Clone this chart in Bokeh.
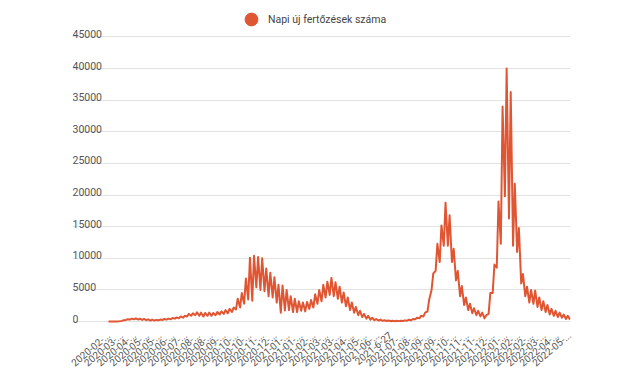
import math
import pandas as pd
from bokeh.plotting import figure
from bokeh.models import Range1d, FixedTicker, Legend, LegendItem
from bokeh.core.properties import value
from bokeh.embed import file_html
from bokeh.resources import INLINE

series_name = "Napi új fertőzések száma"

dates = [
    "2020-02-29",
    "2020-03-02", "2020-03-05", "2020-03-09", "2020-03-12", "2020-03-16", "2020-03-19",
    "2020-03-23", "2020-03-26", "2020-03-30", "2020-04-02", "2020-04-06", "2020-04-09",
    "2020-04-13", "2020-04-16", "2020-04-20", "2020-04-23", "2020-04-27", "2020-04-30",
    "2020-05-04", "2020-05-07", "2020-05-11", "2020-05-14", "2020-05-18", "2020-05-21",
    "2020-05-25", "2020-05-28", "2020-06-01", "2020-06-04", "2020-06-08", "2020-06-11",
    "2020-06-15", "2020-06-18", "2020-06-22", "2020-06-25", "2020-06-29", "2020-07-02",
    "2020-07-06", "2020-07-09", "2020-07-13", "2020-07-16", "2020-07-20", "2020-07-23",
    "2020-07-27", "2020-07-30", "2020-08-03", "2020-08-06", "2020-08-10", "2020-08-13",
    "2020-08-17", "2020-08-20", "2020-08-24", "2020-08-27", "2020-08-31", "2020-09-03",
    "2020-09-07", "2020-09-10", "2020-09-14", "2020-09-17", "2020-09-21", "2020-09-24",
    "2020-09-28", "2020-10-01", "2020-10-05", "2020-10-08", "2020-10-12", "2020-10-15",
    "2020-10-19", "2020-10-22", "2020-10-26", "2020-10-29", "2020-11-02", "2020-11-05",
    "2020-11-09", "2020-11-12", "2020-11-16", "2020-11-19", "2020-11-23", "2020-11-26",
    "2020-11-30", "2020-12-03", "2020-12-07", "2020-12-10", "2020-12-14", "2020-12-17",
    "2020-12-21", "2020-12-24", "2020-12-28", "2020-12-31", "2021-01-04", "2021-01-07",
    "2021-01-11", "2021-01-14", "2021-01-18", "2021-01-21", "2021-01-25", "2021-01-28",
    "2021-02-01", "2021-02-04", "2021-02-08", "2021-02-11", "2021-02-15", "2021-02-18",
    "2021-02-22", "2021-02-25", "2021-03-01", "2021-03-04", "2021-03-08", "2021-03-11",
    "2021-03-15", "2021-03-18", "2021-03-22", "2021-03-25", "2021-03-29", "2021-04-01",
    "2021-04-05", "2021-04-08", "2021-04-12", "2021-04-15", "2021-04-19", "2021-04-22",
    "2021-04-26", "2021-04-29", "2021-05-03", "2021-05-06", "2021-05-10", "2021-05-13",
    "2021-05-17", "2021-05-20", "2021-05-24", "2021-05-27", "2021-05-31", "2021-06-03",
    "2021-06-07", "2021-06-10", "2021-06-14", "2021-06-17", "2021-06-21", "2021-06-24",
    "2021-06-28", "2021-07-01", "2021-07-05", "2021-07-08", "2021-07-12", "2021-07-15",
    "2021-07-19", "2021-07-22", "2021-07-26", "2021-07-29", "2021-08-02", "2021-08-05",
    "2021-08-09", "2021-08-12", "2021-08-16", "2021-08-19", "2021-08-23", "2021-08-26",
    "2021-08-30", "2021-09-02", "2021-09-06", "2021-09-09", "2021-09-13", "2021-09-16",
    "2021-09-20", "2021-09-23", "2021-09-27", "2021-09-30", "2021-10-04", "2021-10-07",
    "2021-10-11", "2021-10-14", "2021-10-18", "2021-10-21", "2021-10-25", "2021-10-28",
    "2021-11-01", "2021-11-04", "2021-11-08", "2021-11-11", "2021-11-15", "2021-11-18",
    "2021-11-22", "2021-11-25", "2021-11-29", "2021-12-02", "2021-12-06", "2021-12-09",
    "2021-12-13", "2021-12-16", "2021-12-20", "2021-12-23", "2021-12-27", "2021-12-30",
    "2022-01-03", "2022-01-06", "2022-01-10", "2022-01-13", "2022-01-17", "2022-01-20",
    "2022-01-24", "2022-01-27", "2022-01-31", "2022-02-03", "2022-02-07", "2022-02-10",
    "2022-02-14", "2022-02-17", "2022-02-21", "2022-02-24", "2022-02-28", "2022-03-03",
    "2022-03-07", "2022-03-10", "2022-03-14", "2022-03-17", "2022-03-21", "2022-03-24",
    "2022-03-28", "2022-03-31", "2022-04-04", "2022-04-07", "2022-04-11", "2022-04-14",
    "2022-04-18", "2022-04-21", "2022-04-25", "2022-04-28", "2022-05-02",
]

values = [
    0,
    0, 2, 3, 10, 20, 40,
    100, 200, 250, 350, 300, 450,
    350, 500, 300, 450, 250, 400,
    200, 350, 150, 300, 150, 250,
    200, 300, 250, 400, 300, 450,
    350, 550, 450, 650, 500, 800,
    600, 900, 800, 1200, 900, 1300,
    1000, 1450, 900, 1400, 800, 1350,
    900, 1400, 900, 1350, 1000, 1500,
    1100, 1600, 1200, 1800, 1300, 2000,
    1500, 2200, 1900, 3600, 2200, 4500,
    2800, 6800, 3500, 10100, 3300, 10400,
    5400, 10200, 5000, 10000, 4800, 8400,
    4000, 7700, 3800, 7000, 3000, 5800,
    1400, 5700, 1750, 5000, 1800, 4000,
    1500, 3600, 1500, 3200, 1700, 3000,
    1600, 3100, 2000, 3400, 2200, 4300,
    2800, 5000, 3200, 5800, 3800, 6300,
    4200, 6900, 4000, 6200, 3600, 5500,
    3000, 4600, 2400, 3800, 1800, 3000,
    1400, 2300, 1000, 1700, 700, 1200,
    450, 900, 300, 600, 200, 400,
    150, 300, 100, 200, 70, 150,
    50, 120, 50, 110, 60, 120,
    80, 180, 120, 280, 200, 400,
    350, 600, 500, 900, 800, 1400,
    1600, 3500, 5000, 7600, 8000, 12300,
    9400, 15200, 12000, 18800, 12000, 16800,
    9400, 11500, 6500, 8000, 4000, 5600,
    2600, 3800, 1800, 2800, 1300, 2100,
    1000, 1700, 800, 1400, 500, 1000,
    1200, 4500, 4500, 9000, 8500, 19000,
    12300, 34000, 19800, 40000, 16300, 36300,
    12000, 21800, 11000, 14800, 6000, 7500,
    4000, 5500, 3000, 5000, 2800, 4900,
    2300, 3800, 1800, 3200, 1500, 2600,
    1100, 2000, 900, 1700, 700, 1400,
    600, 1100, 400, 900, 300,
]

tick_labels = [
    "2020-02-29", "2020-03-22", "2020-04-13", "2020-05-05", "2020-05-27", "2020-06-18",
    "2020-07-10", "2020-08-01", "2020-08-23", "2020-09-14", "2020-10-06", "2020-10-28",
    "2020-11-19", "2020-12-11", "2021-01-02", "2021-01-24", "2021-02-15", "2021-03-09",
    "2021-03-31", "2021-04-22", "2021-05-14", "2021-06-05", "2021-6-27", "2021-07-19",
    "2021-08-10", "2021-09-01", "2021-09-23", "2021-10-15", "2021-11-06", "2021-11-28",
    "2021-12-20", "2022-01-11", "2022-02-02", "2022-02-24", "2022-03-18", "2022-04-09",
    "2022-05-01",
]

y_ticks = [0, 5000, 10000, 15000, 20000, 25000, 30000, 35000, 40000, 45000]
y_labels = ["0", "5000", "10000", "15000", "20000", "25000", "30000", "35000", "40000", "45000"]

line_color = "#e05633"
text_color = "#555555"

origin = pd.Timestamp(dates[0])
x = [(pd.Timestamp(d) - origin).days for d in dates]
tick_x = [(pd.Timestamp(t) - origin).days for t in tick_labels]


def short(s):
    return s if len(s) <= 9 else s[:8] + "..."


p = figure(
    frame_width=498, frame_height=323,
    min_border_left=72, min_border_right=40, min_border_top=0, min_border_bottom=55,
    x_range=Range1d(-61.85, 793.7), y_range=Range1d(-316, 50773),
    output_backend="svg", toolbar_location=None,
)
p.outline_line_color = None
p.yaxis.visible = False
p.xgrid.visible = False
p.ygrid.ticker = FixedTicker(ticks=y_ticks)
p.ygrid.grid_line_color = "#e2e2e2"
p.ygrid.grid_line_width = 1

p.xaxis.ticker = FixedTicker(ticks=tick_x)
p.xaxis.major_label_overrides = {tx: short(t) for tx, t in zip(tick_x, tick_labels)}
p.xaxis.major_label_orientation = math.radians(40)
p.xaxis.axis_line_color = None
p.xaxis.major_tick_line_color = None
p.xaxis.minor_tick_line_color = None
p.xaxis.major_tick_out = 0
p.xaxis.major_tick_in = 0
p.xaxis.major_label_standoff = 10
p.xaxis.major_label_text_font = "Roboto"
p.xaxis.major_label_text_font_size = "10px"
p.xaxis.major_label_text_color = text_color

p.text(
    x=[p.x_range.start] * len(y_ticks), y=y_ticks, text=y_labels,
    text_font=value("Roboto"), text_font_size="10.5px", text_color=text_color,
    text_align="left", text_baseline="alphabetic", y_offset=-3,
)

p.line(x, values, line_color=line_color, line_width=2, line_join="round")

# hidden point renderer of the same series, used only for the circle legend marker
markers = p.scatter(x, values, marker="circle", size=13,
                    fill_color=line_color, line_color=line_color)
markers.visible = False
legend = Legend(
    items=[LegendItem(label=series_name, renderers=[markers])],
    location=(163, 288), orientation="horizontal",
    glyph_width=32, glyph_height=32, label_standoff=1, padding=0, margin=0,
    spacing=0, border_line_color=None, background_fill_alpha=0,
    label_text_font="Roboto", label_text_font_size="10.5px",
    label_text_color="#444444",
)
p.add_layout(legend, "center")

open("out.html", "w").write(file_html(p, INLINE))
